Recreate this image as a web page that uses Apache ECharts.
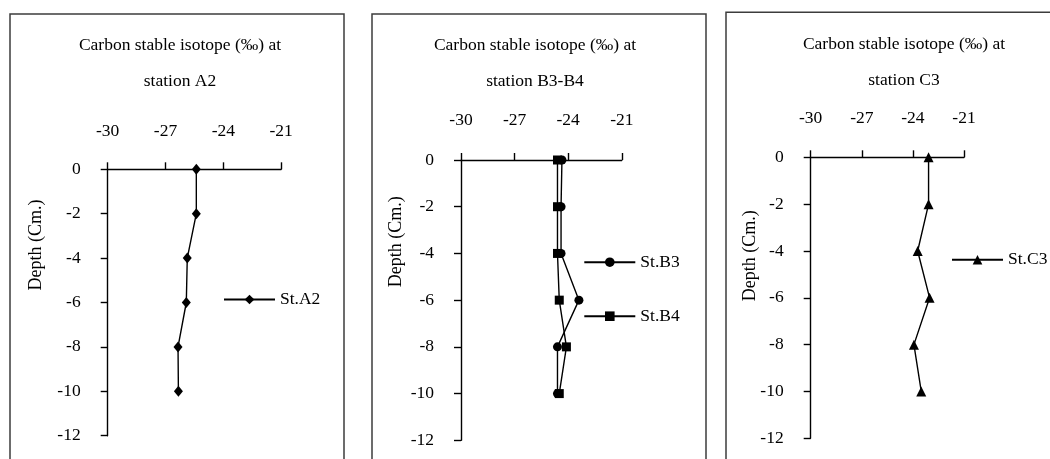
<!DOCTYPE html>
<html>
<head>
<meta charset="utf-8">
<script src="https://cdn.jsdelivr.net/npm/echarts@6.0.0/dist/echarts.min.js"></script>
<style>
html, body { margin: 0; padding: 0; background: #fff; }
#main { width: 1050px; height: 459px; }
</style>
</head>
<body>
<div id="main"></div>
<script>
// depth of the samples (cm)
var depth = [0, -2, -4, -6, -8, -10];
// carbon stable isotope (‰) per station
var stA2 = [-25.4, -25.4, -25.87, -25.92, -26.35, -26.33];
var stB3 = [-24.35, -24.4, -24.4, -23.4, -24.6, -24.6];
var stB4 = [-24.6, -24.6, -24.6, -24.5, -24.1, -24.5];
var stC3 = [-23.08, -23.08, -23.72, -23.02, -23.94, -23.51];
// axis ticks
var xTicks = [-30, -27, -24, -21];
var yTicks = [0, -2, -4, -6, -8, -10, -12];

var font = 'Liberation Serif';
var fs = 17.5;

function pairs(xs) {
  return xs.map(function (v, i) { return [v, depth[i]]; });
}

var grids = [
  { left: 107.7, top: 169.3, width: 173.4, height: 266.4 },
  { left: 461, top: 160, width: 160.8, height: 280.3 },
  { left: 810.7, top: 157.3, width: 153.3, height: 281 }
];
var xLabelMargin = [29, 31, 30];

var xAxes = grids.map(function (g, i) {
  return {
    gridIndex: i,
    type: 'value',
    position: 'top',
    min: xTicks[0],
    max: xTicks[xTicks.length - 1],
    interval: xTicks[1] - xTicks[0],
    axisLine: { show: true, onZero: false, lineStyle: { color: '#000', width: 1.4 } },
    axisTick: { show: true, length: 7, lineStyle: { color: '#000', width: 1.4 } },
    axisLabel: { color: '#000', fontFamily: font, fontSize: fs, margin: xLabelMargin[i] },
    splitLine: { show: false }
  };
});
var yAxes = grids.map(function (g, i) {
  return {
    gridIndex: i,
    type: 'value',
    min: yTicks[yTicks.length - 1],
    max: yTicks[0],
    interval: yTicks[0] - yTicks[1],
    axisLine: { show: true, onZero: false, lineStyle: { color: '#000', width: 1.4 } },
    axisTick: { show: true, length: 7, lineStyle: { color: '#000', width: 1.4 } },
    axisLabel: { color: '#000', fontFamily: font, fontSize: fs, margin: 27 },
    splitLine: { show: false }
  };
});

function line(name, data, idx, symbol, size) {
  return {
    name: name,
    type: 'line',
    xAxisIndex: idx,
    yAxisIndex: idx,
    data: pairs(data),
    symbol: symbol,
    symbolSize: size,
    showAllSymbol: true,
    lineStyle: { color: '#000', width: 1.4 },
    itemStyle: { color: '#000' },
    animation: false
  };
}

var titleText = ['station A2', 'station B3-B4', 'station C3'];
var titleX = [175, 530, 899];
var titleTop = [22, 22.7, 21];

function legend(name, left, cy) {
  return {
    data: [name],
    left: left,
    top: cy - 8.5,
    padding: 0,
    itemWidth: 51,
    itemHeight: 12,
    itemGap: 0,
    textStyle: { color: '#000', fontFamily: font, fontSize: fs },
    selectedMode: false
  };
}

var frame = { fill: 'none', stroke: '#3c3c3c', lineWidth: 1.5 };
var yName = { text: 'Depth (Cm.)', font: '18px "' + font + '"', fill: '#000', align: 'center', verticalAlign: 'middle' };

var option = {
  animation: false,
  title: titleText.map(function (t, i) {
    return {
      text: 'Carbon stable isotope (‰) at\n' + t,
      left: titleX[i],
      top: titleTop[i],
      textAlign: 'center',
      textStyle: { color: '#000', fontFamily: font, fontSize: fs, fontWeight: 'normal', lineHeight: 36 }
    };
  }),
  grid: grids,
  xAxis: xAxes,
  yAxis: yAxes,
  legend: [
    legend('St.A2', 223, 299),
    legend('St.B3', 583.3, 261.7),
    legend('St.B4', 583.3, 315.7),
    legend('St.C3', 951, 259.3)
  ],
  series: [
    line('St.A2', stA2, 0, 'diamond', [9, 11]),
    line('St.B3', stB3, 1, 'circle', 9),
    line('St.B4', stB4, 1, 'rect', 9),
    line('St.C3', stC3, 2, 'triangle', 10)
  ],
  graphic: [
    { type: 'rect', shape: { x: 10, y: 14, width: 334, height: 470 }, style: frame, silent: true },
    { type: 'rect', shape: { x: 372, y: 14, width: 334, height: 470 }, style: frame, silent: true },
    { type: 'rect', shape: { x: 726, y: 12.3, width: 340, height: 470 }, style: frame, silent: true },
    { type: 'text', x: 36.7, y: 245, rotation: Math.PI / 2, style: yName },
    { type: 'text', x: 396.7, y: 241.7, rotation: Math.PI / 2, style: yName },
    { type: 'text', x: 750, y: 255.8, rotation: Math.PI / 2, style: yName }
  ]
};

var myChart = echarts.init(document.getElementById('main'));
myChart.setOption(option);
</script>
</body>
</html>
